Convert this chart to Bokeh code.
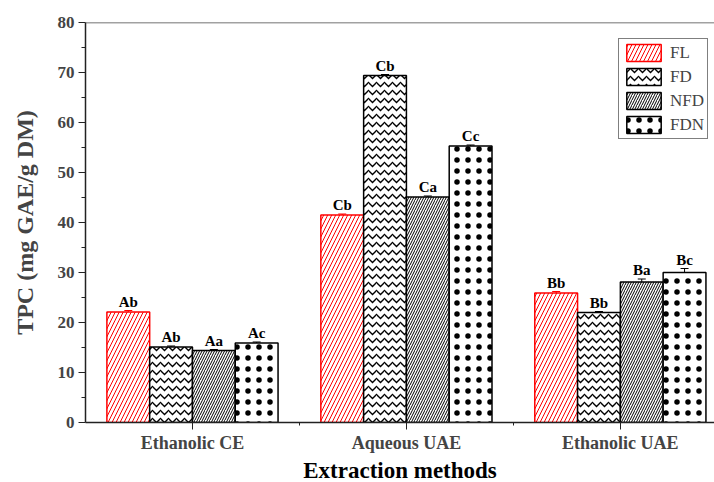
import numpy as np
from bokeh.plotting import figure
from bokeh.models import (ColumnDataSource, FixedTicker, Span, Whisker, Legend, LegendItem,
                          Range1d, Title)
from bokeh.transform import dodge
from bokeh.core.properties import value
from bokeh.embed import file_html
from bokeh.resources import INLINE

categories = ["Ethanolic CE", "Aqueous UAE", "Ethanolic UAE"]
series = ["FL", "FD", "NFD", "FDN"]
FL = [22.1, 41.5, 25.9]
FD = [15.1, 69.4, 22.0]
NFD = [14.4, 45.1, 28.1]
FDN = [15.9, 55.3, 30.0]
FL_err = [0.3, 0.2, 0.3]
FD_err = [0.2, 0.2, 0.2]
NFD_err = [0.2, 0.2, 0.6]
FDN_err = [0.2, 0.2, 0.8]
FL_lab = ["Ab", "Cb", "Bb"]
FD_lab = ["Ab", "Cb", "Bb"]
NFD_lab = ["Aa", "Ca", "Ba"]
FDN_lab = ["Ac", "Cc", "Bc"]
y_ticks = [0, 10, 20, 30, 40, 50, 60, 70, 80]
x_title = "Extraction methods"
y_title = "TPC (mg GAE/g DM)"

FONT = "Liberation Serif"
xc = [1, 2, 3]

p = figure(width=714, height=482, output_backend="svg", toolbar_location=None,
           x_range=Range1d(0.5, 3.44), y_range=Range1d(0, 80),
           min_border_left=85, min_border_right=0, min_border_top=22, min_border_bottom=0)
p.outline_line_color = None
p.grid.visible = False
p.background_fill_color = "white"

specs = [
    ("FL", FL, FL_err, FL_lab, -0.3, dict(line_color="red", hatch_color="red", hatch_pattern="right_diagonal_line", hatch_scale=8, hatch_weight=1), "red"),
    ("FD", FD, FD_err, FD_lab, -0.1, dict(line_color="black", hatch_color="black", hatch_pattern="horizontal_wave", hatch_scale=8, hatch_weight=1.3), "black"),
    ("NFD", NFD, NFD_err, NFD_lab, 0.1, dict(line_color="black", hatch_color="black", hatch_pattern="right_diagonal_line", hatch_scale=5, hatch_weight=1), "black"),
    ("FDN", FDN, FDN_err, FDN_lab, 0.3, dict(line_color="black", hatch_color="black", hatch_pattern="dot", hatch_scale=11, hatch_weight=0.6), "black"),
]

items = []
for name, vals, errs, labs, off, style, ecol in specs:
    src = ColumnDataSource(dict(x=xc, top=vals,
                                upper=[v + e for v, e in zip(vals, errs)],
                                lower=[v - e for v, e in zip(vals, errs)],
                                lab=labs))
    r = p.vbar(x=dodge("x", off), top="top", width=0.2, source=src,
               fill_color="white", line_width=1.5, **style)
    w = Whisker(base=dodge("x", off), upper="upper", lower="lower", source=src,
                line_color=ecol, line_width=1)
    w.upper_head.size = 8
    w.lower_head.size = 8
    w.upper_head.line_color = ecol
    w.lower_head.line_color = ecol
    p.add_layout(w)
    p.text(x=dodge("x", off), y="upper", text="lab", source=src,
           text_align="center", text_baseline="bottom", y_offset=-1,
           text_font=value(FONT), text_font_style="bold", text_font_size="15px",
           text_color="black")
    items.append(LegendItem(label=name, renderers=[r]))

p.add_layout(Span(location=80, dimension="width", line_color="#444", line_width=1.5))

legend = Legend(items=items, location=(533, 283), border_line_color="black",
                border_line_width=1, glyph_width=43, glyph_height=21, spacing=3,
                padding=3, margin=0, label_standoff=5,
                label_text_font=FONT, label_text_font_size="17px",
                background_fill_alpha=1)
p.add_layout(legend, "center")

# axes
xa = p.xaxis[0]
xa.ticker = FixedTicker(ticks=xc, minor_ticks=[1.5, 2.5, 3.5])
xa.major_label_overrides = {i + 1: c for i, c in enumerate(categories)}
xa.major_label_text_font = FONT
xa.major_label_text_font_style = "bold"
xa.major_label_text_font_size = "18px"
xa.major_label_standoff = 3
xa.major_tick_out = 7
xa.major_tick_in = 0
xa.minor_tick_out = 3
xa.minor_tick_in = 0
xa.axis_line_width = 1.5
xa.axis_line_color = "#222"
xa.major_tick_line_color = "#222"
xa.minor_tick_line_color = "#222"

p.add_layout(Title(text=x_title, align="center", offset=6, standoff=0,
                   text_font=FONT, text_font_style="bold", text_font_size="23px",
                   text_color="black"), "below")

ya = p.yaxis[0]
ya.ticker = FixedTicker(ticks=y_ticks, minor_ticks=[5, 15, 25, 35, 45, 55, 65, 75])
ya.axis_label = y_title
ya.axis_label_text_font = FONT
ya.axis_label_text_font_style = "bold"
ya.axis_label_text_font_size = "24px"
ya.axis_label_standoff = 17
ya.major_label_text_font = FONT
ya.major_label_text_font_style = "bold"
ya.major_label_text_font_size = "17px"
ya.major_label_standoff = 4
ya.major_tick_out = 7
ya.major_tick_in = 0
ya.minor_tick_out = 4
ya.minor_tick_in = 0
ya.axis_line_width = 1.5
ya.axis_line_color = "#222"
ya.major_tick_line_color = "#222"
ya.minor_tick_line_color = "#222"

open("out.html", "w").write(file_html(p, INLINE))
